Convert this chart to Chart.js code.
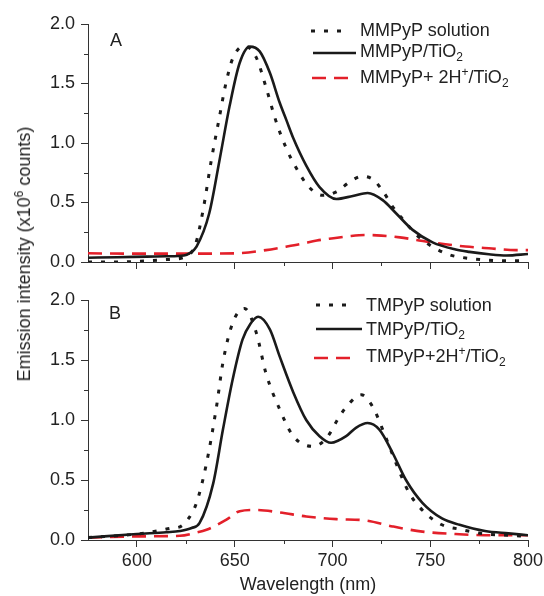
<!DOCTYPE html>
<html><head><meta charset="utf-8">
<script src="https://cdn.jsdelivr.net/npm/chart.js@4.4.1/dist/chart.umd.min.js"></script>
<style>
html,body{margin:0;padding:0;background:#fff;}
#wrap{position:relative;width:544px;height:596px;overflow:hidden;font-family:"Liberation Sans",Arial,sans-serif;color:#222;}
canvas{position:absolute;left:0;}
.lbl{position:absolute;font-size:18px;line-height:18px;white-space:nowrap;}
.row{position:absolute;font-size:18px;line-height:18px;white-space:nowrap;}
sub,sup{font-size:12px;line-height:0;}
sub{vertical-align:-4px;}
sup{vertical-align:7px;}
svg.smp{position:absolute;overflow:visible;}
</style></head>
<body><div id="wrap">
<canvas id="cA" width="544" height="280" style="top:0"></canvas>
<canvas id="cB" width="544" height="316" style="top:280px"></canvas>
<div class="lbl" style="left:24px;top:254px;transform:translate(-50%,-50%) rotate(-90deg);">Emission intensity (x10<sup>6</sup> counts)</div>
<div class="lbl" style="left:110px;top:31px">A</div>
<div class="lbl" style="left:109px;top:304px">B</div>
</div>
<script>
// ---- axis ticks ----
const xTicks = [600, 650, 700, 750, 800];
const xMinor = [625, 675, 725, 775];
const yTicks = [0, 0.5, 1.0, 1.5, 2.0];
const yMinor = [0.25, 0.75, 1.25, 1.75];

// ---- Panel A : MMPyP ----
const labelsA = ["MMPyP solution", "MMPyP/TiO2", "MMPyP+ 2H+/TiO2"];
const wlA_sol = [575, 590, 605, 615, 625, 630, 634, 638, 642, 645.5, 649, 655, 661, 666, 671, 676, 681.5, 688, 695, 702, 709, 715, 721, 726, 731, 737, 743, 751, 760, 770, 780, 790, 800];
const inA_sol = [0.0, 0.0, 0.01, 0.02, 0.045, 0.15, 0.45, 0.85, 1.2, 1.5, 1.71, 1.815, 1.72, 1.47, 1.19, 0.97, 0.79, 0.63, 0.56, 0.59, 0.675, 0.72, 0.69, 0.59, 0.46, 0.34, 0.227, 0.13, 0.06, 0.03, 0.015, 0.01, 0.01];
const wlA_tio = [575, 590, 605, 615, 624, 627, 630.5, 637, 642.3, 647.4, 652.5, 657.7, 662.8, 668, 673, 676.5, 680, 686.6, 693.4, 702, 710.4, 718, 725.7, 732.5, 741, 751.2, 763, 770, 780, 789, 800];
const inA_tio = [0.036, 0.04, 0.045, 0.048, 0.055, 0.075, 0.13, 0.41, 0.86, 1.31, 1.67, 1.81, 1.77, 1.59, 1.34, 1.19, 1.04, 0.81, 0.63, 0.53, 0.555, 0.58, 0.52, 0.41, 0.27, 0.165, 0.105, 0.085, 0.065, 0.055, 0.067];
const wlA_h = [575, 600, 625, 650, 666, 675, 683.5, 692, 700.5, 709, 717, 725, 734.5, 743, 751.5, 760, 768, 780, 794, 800];
const inA_h = [0.073, 0.07, 0.07, 0.073, 0.10, 0.125, 0.15, 0.18, 0.20, 0.218, 0.227, 0.222, 0.207, 0.185, 0.162, 0.145, 0.13, 0.115, 0.10, 0.10];

// ---- Panel B : TMPyP ----
const labelsB = ["TMPyP solution", "TMPyP/TiO2", "TMPyP+2H+/TiO2"];
const wlB_sol = [575, 600, 612, 618, 622, 626, 630.5, 635.6, 640.7, 644, 649, 655, 661, 666, 673, 680, 690, 697, 703.6, 708.7, 714.7, 720.6, 725.7, 732.5, 739.3, 747.8, 756, 765, 778, 790, 800];
const inB_sol = [0.02, 0.05, 0.08, 0.10, 0.11, 0.17, 0.31, 0.64, 1.11, 1.48, 1.81, 1.93, 1.73, 1.39, 1.09, 0.865, 0.78, 0.85, 1.03, 1.14, 1.21, 1.11, 0.92, 0.64, 0.39, 0.22, 0.127, 0.09, 0.05, 0.04, 0.03];
const wlB_tio = [575, 600, 615, 622, 628, 632, 639, 644, 649, 654, 658, 662, 668, 673, 680, 686.6, 693.4, 699.3, 707, 712, 718, 724, 730.8, 737.6, 746, 756, 765, 778, 790, 800];
const inB_tio = [0.02, 0.05, 0.065, 0.075, 0.10, 0.14, 0.47, 0.92, 1.34, 1.67, 1.80, 1.86, 1.755, 1.53, 1.23, 1.00, 0.865, 0.81, 0.865, 0.935, 0.975, 0.92, 0.725, 0.50, 0.31, 0.18, 0.127, 0.075, 0.055, 0.04];
const wlB_h = [575, 600, 622, 630, 635.6, 645.8, 652.6, 661, 673, 686.6, 702, 717, 730.8, 746, 763, 778, 800];
const inB_h = [0.02, 0.03, 0.035, 0.06, 0.085, 0.17, 0.24, 0.25, 0.23, 0.196, 0.174, 0.163, 0.113, 0.07, 0.05, 0.04, 0.04];

// ---- styles ----
const INK = '#1a1a1a', RED = '#e3202a', AXC = '#333';
const styles = [
  {color: INK, width: 3, dash: [4, 9]},
  {color: INK, width: 2.6, dash: []},
  {color: RED, width: 2.6, dash: [14, 8]}
];

Chart.defaults.font.family = '"Liberation Sans", Arial, sans-serif';
Chart.defaults.font.size = 18;
Chart.defaults.color = '#222';

function pts(xs, ys) { return xs.map((x, i) => ({x: x, y: ys[i]})); }
function ds(label, xs, ys, st) {
  return {label: label, data: pts(xs, ys), borderColor: st.color, borderWidth: st.width,
    borderDash: st.dash, pointRadius: 0, fill: false, cubicInterpolationMode: 'monotone'};
}

const minorTicks = {
  id: 'minorTicks',
  afterDraw(chart) {
    const {ctx, chartArea: a, scales: {x, y}} = chart;
    ctx.save();
    ctx.strokeStyle = AXC; ctx.lineWidth = 1;
    ctx.beginPath();
    xMinor.forEach(v => { const p = Math.round(x.getPixelForValue(v)) + 0.5; ctx.moveTo(p, a.bottom); ctx.lineTo(p, a.bottom + 4); });
    yMinor.forEach(v => { const p = Math.round(y.getPixelForValue(v)) + 0.5; ctx.moveTo(a.left - 4, p); ctx.lineTo(a.left, p); });
    ctx.stroke();
    ctx.restore();
  }
};

function makeChart(id, sets, showX, xHeight, padTop) {
  return new Chart(document.getElementById(id), {
    type: 'line',
    data: {datasets: sets},
    plugins: [minorTicks],
    options: {
      responsive: false, animation: false, devicePixelRatio: 1,
      layout: {padding: {left: 0, right: 16, top: padTop, bottom: 0}},
      plugins: {legend: {display: false}, tooltip: {enabled: false}},
      scales: {
        x: {
          type: 'linear', min: 575, max: 800,
          afterBuildTicks: s => { s.ticks = xTicks.map(v => ({value: v})); },
          afterFit: s => { s.height = xHeight; s.paddingLeft = 0; s.paddingRight = 0; },
          ticks: {padding: 3, maxRotation: 0, autoSkip: false, color: '#222',
            callback: v => showX ? String(v) : ''},
          grid: {drawOnChartArea: false, drawTicks: true, tickLength: 7, tickColor: AXC},
          border: {display: true, color: AXC, width: 1},
          title: {display: showX, text: 'Wavelength (nm)', padding: {top: 0, bottom: 0}, color: '#222', font: {size: 18}}
        },
        y: {
          type: 'linear', min: 0, max: 2,
          afterBuildTicks: s => { s.ticks = yTicks.map(v => ({value: v})); },
          afterFit: s => { s.width = 88; s.paddingTop = 0; s.paddingBottom = 0; },
          ticks: {padding: 6, color: '#222', callback: v => Number(v).toFixed(1)},
          grid: {drawOnChartArea: false, drawTicks: true, tickLength: 7, tickColor: AXC},
          border: {display: true, color: AXC, width: 1}
        }
      }
    }
  });
}

makeChart('cA', [
  ds(labelsA[0], wlA_sol, inA_sol, styles[0]),
  ds(labelsA[1], wlA_tio, inA_tio, styles[1]),
  ds(labelsA[2], wlA_h, inA_h, styles[2])
], false, 18, 24);

makeChart('cB', [
  ds(labelsB[0], wlB_sol, inB_sol, styles[0]),
  ds(labelsB[1], wlB_tio, inB_tio, styles[1]),
  ds(labelsB[2], wlB_h, inB_h, styles[2])
], true, 56, 20);

// ---- legends (HTML text) ----
function fmt(t) {
  return t.replace('TiO2', 'TiO<sub>2</sub>').replace('2H+', '2H<sup>+</sup>');
}
function legend(labels, rowsY, lines, textX) {
  const wrap = document.getElementById('wrap');
  labels.forEach((t, i) => {
    const st = styles[i];
    const d = document.createElement('div');
    d.className = 'row';
    d.style.left = textX + 'px';
    d.style.top = (rowsY[i] - 9) + 'px';
    d.innerHTML = fmt(t);
    wrap.appendChild(d);
    const [x1, x2, ly] = lines[i];
    const ns = 'http://www.w3.org/2000/svg';
    const s = document.createElementNS(ns, 'svg');
    s.setAttribute('class', 'smp');
    s.setAttribute('width', x2 - x1); s.setAttribute('height', 6);
    s.style.left = x1 + 'px'; s.style.top = (ly - 3) + 'px';
    const l = document.createElementNS(ns, 'line');
    l.setAttribute('x1', 0); l.setAttribute('x2', x2 - x1);
    l.setAttribute('y1', 3); l.setAttribute('y2', 3);
    l.setAttribute('stroke', st.color); l.setAttribute('stroke-width', st.width);
    if (st.dash.length) l.setAttribute('stroke-dasharray', st.dash.join(' '));
    s.appendChild(l);
    wrap.appendChild(s);
  });
}
legend(labelsA, [30, 51, 77], [[311, 346, 31], [313, 356, 53], [312, 348, 78]], 360);
legend(labelsB, [305, 329, 356], [[316, 352, 305], [316, 362, 329], [314, 354, 358]], 366);
</script>
</body></html>
